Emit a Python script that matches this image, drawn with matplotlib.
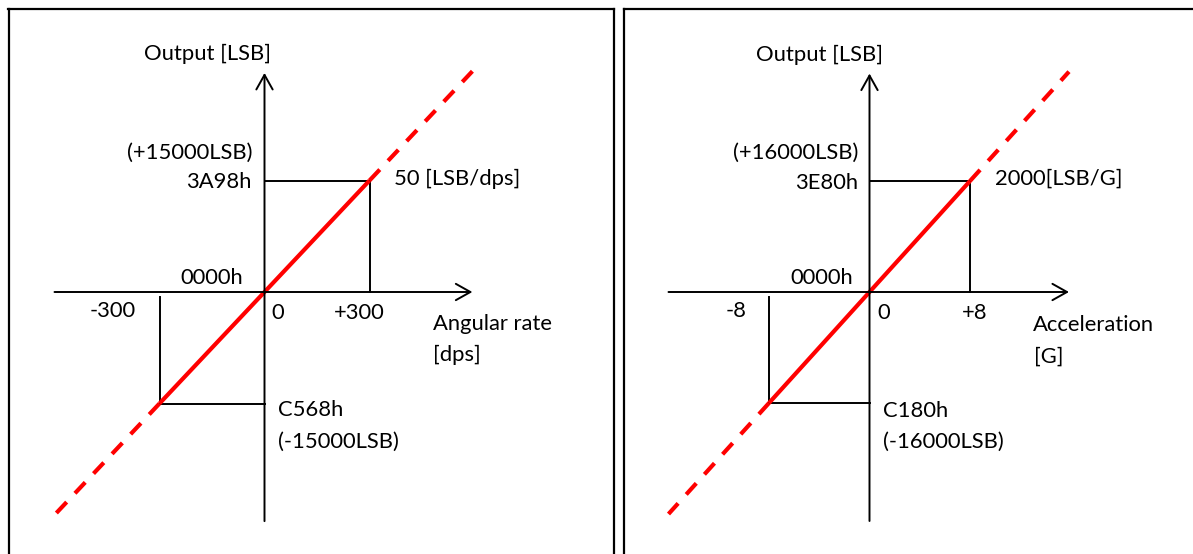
import matplotlib
matplotlib.use("Agg")
import matplotlib.pyplot as plt
import numpy as np

plt.rcParams['font.family'] = ['Lato', 'DejaVu Sans']

# --- data -------------------------------------------------------------
# gyro (left) : +-300 dps -> +-15000 LSB, 50 LSB/dps
gyro_fs = 300
gyro_sens = 50
gyro_out = gyro_fs * gyro_sens          # 15000
gyro_hex = ["3A98h", "0000h", "C568h"]
gyro_ticks = ["-300", "0", "+300"]
gyro_out_txt = ["(+15000LSB)", "(-15000LSB)"]
gyro_sens_txt = "50 [LSB/dps]"
gyro_xlabel = ["Angular rate", "[dps]"]

# accel (right) : +-8 G -> +-16000 LSB, 2000 LSB/G
acc_fs = 8
acc_sens = 2000
acc_out = acc_fs * acc_sens             # 16000
acc_hex = ["3E80h", "0000h", "C180h"]
acc_ticks = ["-8", "0", "+8"]
acc_out_txt = ["(+16000LSB)", "(-16000LSB)"]
acc_sens_txt = "2000[LSB/G]"
acc_xlabel = ["Acceleration", "[G]"]

ylabel = "Output [LSB]"

W, H = 1193, 554
fig = plt.figure(figsize=(W / 100, H / 100), dpi=100)

PX = 1 / 100 * 72   # one pixel in points
FS = 15.8


def make_panel(box, origin, sx, sy):
    """box = (left, right, top, bottom) in pixels, origin pixel of (0,0),
    sx / sy = pixels per data unit"""
    l, r, t, b = box
    ax = fig.add_axes([l / W, 1 - b / H, (r - l) / W, (b - t) / H])
    ax.set_xlim((l - origin[0]) / sx, (r - origin[0]) / sx)
    ax.set_ylim((origin[1] - b) / sy, (origin[1] - t) / sy)
    ax.set_xticks([])
    ax.set_yticks([])
    ax.spines['bottom'].set_visible(False)
    for s in ['top', 'left', 'right']:
        ax.spines[s].set_linewidth(1.6)
    ax.patch.set_alpha(0)
    return ax


def txt(ax, s, xy, off, ha):
    ax.annotate(s, xy=xy, xytext=(off[0] * PX, off[1] * PX),
                textcoords='offset points', ha=ha, va='center',
                fontsize=FS, color='black')


def draw(ax, fs, sens, out, hexs, ticks, outs, sens_txt, xlab,
         xext, yext, offs):
    arrow = dict(arrowstyle='->,head_length=0.75,head_width=0.42',
                 lw=1.4, color='black', shrinkA=0, shrinkB=0,
                 mutation_scale=14)
    # axes with arrows
    ax.annotate('', xy=(xext[1] * fs, 0), xytext=(xext[0] * fs, 0),
                arrowprops=arrow)
    ax.annotate('', xy=(0, yext[1] * out), xytext=(0, yext[0] * out),
                arrowprops=arrow)
    # full-scale guide lines
    ax.plot([0, fs, fs], [out, out, 0], color='black', lw=1.4)
    ax.plot([-fs, -fs, 0], [-0.045 * out, -out, -out], color='black', lw=1.4)
    # transfer line: solid inside the range, dashed outside
    xs = np.array([-fs, fs])
    ax.plot(xs, sens * xs, color='#ff0000', lw=3, solid_capstyle='butt')
    xo = np.array([fs, xext[1] * fs])
    ax.plot(xo, sens * xo, color='#ff0000', lw=3, dashes=(3.6, 2.9),
            dash_capstyle='butt')
    xo = np.array([-fs, xext[0] * fs])
    ax.plot(xo, sens * xo, color='#ff0000', lw=3, dashes=(3.6, 2.9),
            dash_capstyle='butt')

    txt(ax, ylabel, (0, yext[1] * out), offs['ylab'], 'center')
    txt(ax, outs[0], (0, out), offs['outp'], 'right')
    txt(ax, hexs[0], (0, out), offs['hexp'], 'right')
    txt(ax, sens_txt, (fs, out), offs['sens'], 'left')
    txt(ax, hexs[1], (0, 0), offs['hex0'], 'right')
    txt(ax, ticks[0], (-fs, 0), offs['tneg'], 'right')
    txt(ax, ticks[1], (0, 0), offs['t0'], 'left')
    txt(ax, ticks[2], (fs, 0), offs['tpos'], 'center')
    txt(ax, xlab[0], (xext[1] * fs, 0), offs['xl1'], 'left')
    txt(ax, xlab[1], (xext[1] * fs, 0), offs['xl2'], 'left')
    txt(ax, hexs[2], (0, -out), offs['hexn'], 'left')
    txt(ax, outs[1], (0, -out), offs['outn'], 'left')


# left panel
ax1 = make_panel((8.5, 613.5, 8.5, 600), (264.5, 292), 105 / gyro_fs, 111.5 / gyro_out)
draw(ax1, gyro_fs, gyro_sens, gyro_out, gyro_hex, gyro_ticks, gyro_out_txt,
     gyro_sens_txt, gyro_xlabel, (-2.0, 1.98), (-2.055, 1.965),
     dict(ylab=(-57.5, 19), outp=(-12.5, 28), hexp=(-12.5, -1.5),
          sens=(24, 1.5), hex0=(-21.7, 14), tneg=(-23.6, -19),
          t0=(6.5, -21), tpos=(-10.5, -21), xl1=(-39, -32),
          xl2=(-39, -63), hexn=(13.5, -6.5), outn=(13.5, -38)))

# right panel
ax2 = make_panel((623.5, 1210, 8.5, 600), (869.5, 292), 100.5 / acc_fs, 111 / acc_out)
draw(ax2, acc_fs, acc_sens, acc_out, acc_hex, acc_ticks, acc_out_txt,
     acc_sens_txt, acc_xlabel, (-2.0, 1.985), (-2.063, 1.968),
     dict(ylab=(-50.5, 18.5), outp=(-11.5, 28), hexp=(-11.5, -1.5),
          sens=(24.5, 2), hex0=(-16.5, 14), tneg=(-22.5, -19),
          t0=(7.5, -21), tpos=(4.5, -21), xl1=(-36, -33),
          xl2=(-35, -65), hexn=(14, -8), outn=(14, -39)))

fig.savefig("out.png", dpi=100)
